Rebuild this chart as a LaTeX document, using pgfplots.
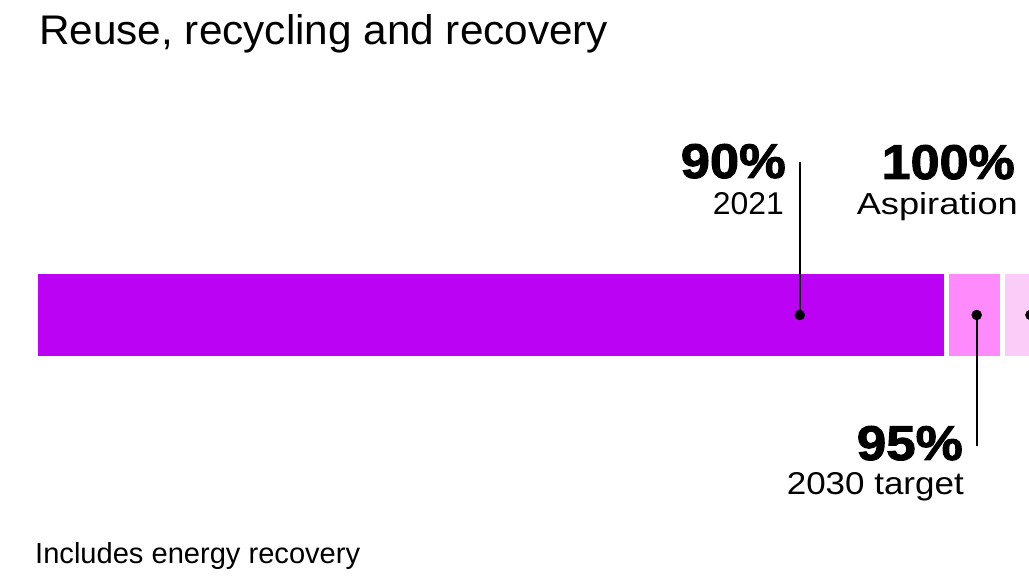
\documentclass[border=0pt]{standalone}
\usepackage{pgfplots}
\pgfplotsset{compat=1.18}
\usepackage{fontspec}
\setmainfont{Liberation Sans}
\newfontfamily\heavyfont[BoldFeatures={FakeBold=2}]{Liberation Sans}
\definecolor{cPurple}{RGB}{187,2,245}
\definecolor{cPink}{RGB}{255,138,251}
\definecolor{cLight}{RGB}{250,204,247}
\begin{document}
\begin{tikzpicture}
\begin{axis}[
  at={(35pt,0pt)}, anchor=south west,
  scale only axis,
  width=1023.5pt, height=577pt,
  xmin=8.62, xmax=100, ymin=0, ymax=577,
  hide axis,
  xbar stacked,
  bar width=87pt,
]
\addplot[fill=cPurple, draw=white, line width=5pt] coordinates {(90,262)};
\addplot[fill=cPink, draw=white, line width=5pt] coordinates {(5,262)};
\addplot[fill=cLight, draw=white, line width=5pt] coordinates {(5,262)};
\end{axis}
\begin{axis}[
  at={(35pt,0pt)}, anchor=south west,
  scale only axis,
  width=1023.5pt, height=577pt,
  xmin=8.62, xmax=100, ymin=0, ymax=577,
  hide axis,
]
\addplot[black, line width=2.4pt] coordinates {(76.9,262) (76.9,415)};
\addplot[black, line width=2.4pt] coordinates {(92.7,262) (92.7,131)};
\addplot[black, line width=2.4pt] coordinates {(97.5,262) (97.5,415)};
\addplot[only marks, mark=*, mark size=5pt, black] coordinates {(76.9,262) (92.7,262) (97.5,262)};
\end{axis}
\node[anchor=base west, inner sep=0] at (39pt,532pt) {\resizebox{569pt}{30pt}{Reuse, recycling and recovery}};
\node[anchor=base east, inner sep=0] at (786pt,399pt) {\resizebox{105pt}{34pt}{\heavyfont\bfseries 90\%}};
\node[anchor=base east, inner sep=0] at (784pt,362pt) {\resizebox{71pt}{22pt}{2021}};
\node[anchor=base east, inner sep=0] at (1015pt,398pt) {\resizebox{133pt}{34pt}{\heavyfont\bfseries 100\%}};
\node[anchor=base east, inner sep=0] at (1018pt,362pt) {\resizebox{161pt}{22pt}{Aspiration}};
\node[anchor=base east, inner sep=0] at (963pt,117pt) {\resizebox{106pt}{34pt}{\heavyfont\bfseries 95\%}};
\node[anchor=base east, inner sep=0] at (964pt,82pt) {\resizebox{177pt}{22pt}{2030 target}};
\node[anchor=base west, inner sep=0] at (35pt,13pt) {\resizebox{325pt}{21pt}{Includes energy recovery}};
\pgfresetboundingbox
\useasboundingbox (0pt,0pt) rectangle (1029pt,577pt);
\end{tikzpicture}
\end{document}
